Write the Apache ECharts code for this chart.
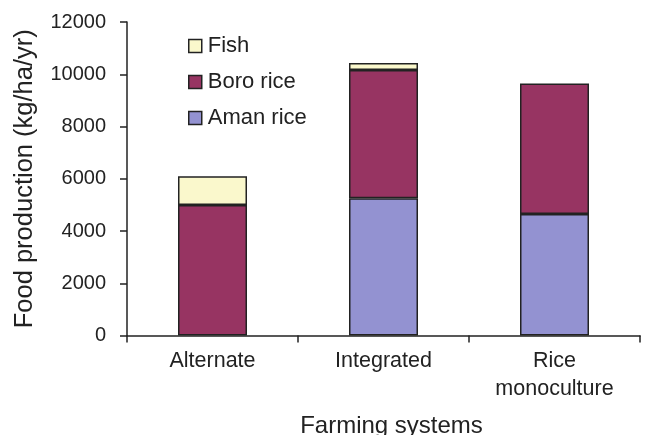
<!DOCTYPE html>
<html>
<head>
<meta charset="utf-8">
<script src="https://cdn.jsdelivr.net/npm/echarts@6/dist/echarts.min.js"></script>
<style>
  html, body { margin: 0; padding: 0; background: #fff; }
  #chart { width: 650px; height: 435px; }
</style>
</head>
<body>
<div id="chart"></div>
<script>
// Food production by farming system (kg/ha/yr), stacked by component
const categories = ['Alternate', 'Integrated', 'Rice\nmonoculture'];
const amanRice = ['-', 5250, 4650];
const boroRice = [5000, 4910, 5000];
const fish = [1100, 270, '-'];
const yTicks = { min: 0, max: 12000, interval: 2000 };

const FONT = '"Liberation Sans", Arial, Helvetica, sans-serif';
const INK = '#222';
const barBorder = { borderColor: INK, borderWidth: 1.5 };

const chart = echarts.init(document.getElementById('chart'), null, { renderer: 'canvas' });

chart.setOption({
  animation: false,
  backgroundColor: '#fff',
  textStyle: { fontFamily: FONT, color: INK },
  // keep the plot area fixed; the axis titles may sit near the canvas edge
  grid: { left: 127, right: 10, top: 22, bottom: 99.5, containLabel: false, outerBoundsMode: 'none' },
  legend: {
    orient: 'vertical',
    left: 183,
    top: 30,
    itemWidth: 13,
    itemHeight: 13,
    itemGap: 14,
    icon: 'rect',
    data: ['Fish', 'Boro rice', 'Aman rice'],
    textStyle: { fontFamily: FONT, fontSize: 22, color: INK, padding: [0, 0, 0, 1] },
    itemStyle: { borderColor: INK, borderWidth: 1.5 }
  },
  xAxis: {
    type: 'category',
    data: categories,
    name: 'Farming systems',
    nameLocation: 'middle',
    nameGap: 79,
    nameTextStyle: { fontFamily: FONT, fontSize: 24, color: INK, padding: [0, 0, 0, 16] },
    axisLine: { lineStyle: { color: INK, width: 1.5 } },
    axisTick: { show: true, length: 7, lineStyle: { color: INK, width: 1.5 } },
    axisLabel: { fontFamily: FONT, fontSize: 21.5, color: INK, margin: 12, lineHeight: 28 }
  },
  yAxis: {
    type: 'value',
    min: yTicks.min,
    max: yTicks.max,
    interval: yTicks.interval,
    name: 'Food production (kg/ha/yr)',
    nameLocation: 'middle',
    nameGap: 89,
    nameTextStyle: { fontFamily: FONT, fontSize: 25.5, color: INK },
    splitLine: { show: false },
    axisLine: { show: true, lineStyle: { color: INK, width: 1.5 } },
    axisTick: { show: true, length: 7, lineStyle: { color: INK, width: 1.5 } },
    axisLabel: { fontFamily: FONT, fontSize: 20, color: INK, margin: 21, formatter: v => String(v) }
  },
  series: [
    {
      name: 'Aman rice', type: 'bar', stack: 'total', barWidth: 69,
      data: amanRice,
      itemStyle: Object.assign({ color: '#9392D1' }, barBorder)
    },
    {
      name: 'Boro rice', type: 'bar', stack: 'total', barWidth: 69,
      data: boroRice,
      itemStyle: Object.assign({ color: '#973462' }, barBorder)
    },
    {
      name: 'Fish', type: 'bar', stack: 'total', barWidth: 69,
      data: fish,
      itemStyle: Object.assign({ color: '#FAF8CC' }, barBorder)
    }
  ]
});
</script>
</body>
</html>
